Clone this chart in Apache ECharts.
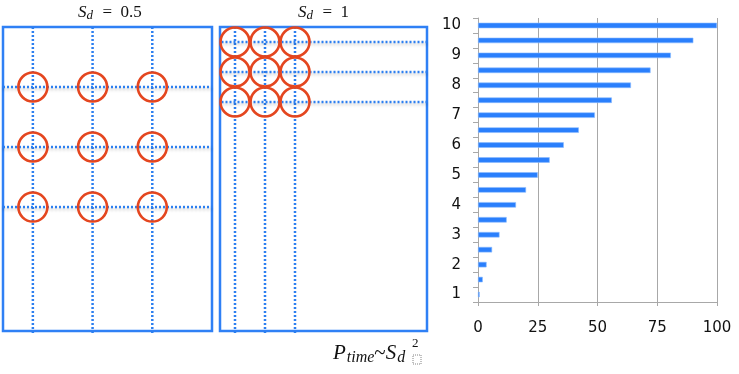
<!DOCTYPE html>
<html>
<head>
<meta charset="utf-8">
<script src="https://cdn.jsdelivr.net/npm/echarts@6/dist/echarts.min.js"></script>
<style>html,body{margin:0;padding:0;background:#fff;}#c{width:739px;height:374px;}</style>
</head>
<body>
<div id="c"></div>
<script>
// ---- Data ----
const categories = ['1','1.5','2','2.5','3','3.5','4','4.5','5','5.5','6','6.5','7','7.5','8','8.5','9','9.5','10'];
const barValues = [0.7, 2, 3.6, 5.9, 9, 12, 15.9, 20.1, 25, 30, 35.9, 42.2, 48.9, 56, 64, 72.2, 80.7, 90.1, 100];
const xTicks = [0, 25, 50, 75, 100];
// panel diagrams (units: circle diameter = 1)
const panel1Lines = [1, 3, 5];          // S_d = 0.5 grid positions (x)
const panel1RowLines = [2, 4, 6];       // y positions from top
const panel2Lines = [0.5, 1.5, 2.5];    // S_d = 1
const panel2RowLines = [0.5, 1.5, 2.5];
const panelTitles = ['0.5', '1'];

const BLUE = '#2f80f5';
const DOT = '#2c7ff0';
const RED = '#e4461f';

function vLines(xs, yMax, gi) {
  return xs.map(x => ({
    type: 'line', xAxisIndex: gi, yAxisIndex: gi, clip: false, silent: true,
    symbol: 'none', data: [[x, 0], [x, yMax]],
    lineStyle: { color: DOT, width: 2.5, type: [2, 2] }
  }));
}
function hLines(ys, xMin, xMax, gi) {
  return ys.map(y => ({
    type: 'line', xAxisIndex: gi, yAxisIndex: gi, clip: false, silent: true,
    symbol: 'none', data: [[xMin, y], [xMax, y]],
    lineStyle: { color: DOT, width: 2.5, type: [2, 2], shadowColor: 'rgba(0,0,0,0.25)', shadowBlur: 3, shadowOffsetY: 2 }
  }));
}
function circles(xs, ys, gi) {
  const d = [];
  ys.forEach(y => xs.forEach(x => d.push([x, y])));
  return {
    type: 'scatter', xAxisIndex: gi, yAxisIndex: gi, clip: false, silent: true,
    symbol: 'circle', symbolSize: 29, data: d,
    itemStyle: { color: 'rgba(0,0,0,0)', borderColor: RED, borderWidth: 2.6, opacity: 1 },
    z: 5
  };
}
const chart = echarts.init(document.getElementById('c'), null, { renderer: 'canvas' });
const numFont = { fontFamily: 'DejaVu Sans', fontSize: 15, color: '#111' };
const titleRich = {
  s: { fontFamily: 'Liberation Serif', fontStyle: 'italic', fontSize: 17, fill: '#111' },
  sub: { fontFamily: 'Liberation Serif', fontStyle: 'italic', fontSize: 13, fill: '#111', padding: [7, 1, 0, 0] },
  n: { fontFamily: 'Liberation Serif', fontSize: 17, fill: '#111' }
};

chart.setOption({
  animation: false,
  grid: [
    { left: 478, right: 22, top: 18, bottom: 72, containLabel: false },
    { left: 3, top: 27, width: 209, height: 304, show: true, borderColor: BLUE, borderWidth: 2.5, backgroundColor: 'transparent' },
    { left: 220, top: 27, width: 207, height: 304, show: true, borderColor: BLUE, borderWidth: 2.5, backgroundColor: 'transparent' }
  ],
  xAxis: [
    { gridIndex: 0, type: 'value', min: 0, max: 100, interval: 25,
      axisLine: { show: true, lineStyle: { color: '#a8a8a8', width: 1 } },
      axisTick: { show: true, length: 4, lineStyle: { color: '#a8a8a8' } },
      splitLine: { show: true, lineStyle: { color: '#a8a8a8', width: 1 } },
      axisLabel: Object.assign({ margin: 19, formatter: v => xTicks.indexOf(v) >= 0 ? String(v) : '' }, numFont) },
    { gridIndex: 1, type: 'value', min: 0, max: 7, show: false },
    { gridIndex: 2, type: 'value', min: 0, max: 6.9, show: false }
  ],
  yAxis: [
    { gridIndex: 0, type: 'category', data: categories, boundaryGap: true,
      axisLine: { show: true, lineStyle: { color: '#a8a8a8', width: 1 } },
      axisTick: { show: true, length: 5, interval: 0, lineStyle: { color: '#a8a8a8' } },
      splitLine: { show: false },
      axisLabel: Object.assign({ interval: 1, margin: 17 }, numFont) },
    { gridIndex: 1, type: 'value', min: 0, max: 10.13, inverse: true, show: false },
    { gridIndex: 2, type: 'value', min: 0, max: 10.13, inverse: true, show: false }
  ],
  series: [
    { type: 'bar', xAxisIndex: 0, yAxisIndex: 0, data: barValues, barWidth: 5.5,
      itemStyle: { color: '#2a7ffc', borderColor: '#8cbcff', borderWidth: 0.6 } },
    ...vLines(panel1Lines, 10.2, 1),
    ...hLines(panel1RowLines, 0, 7, 1),
    circles(panel1Lines, panel1RowLines, 1),
    ...vLines(panel2Lines, 10.2, 2),
    ...hLines(panel2RowLines, 0.05, 6.9, 2),
    circles(panel2Lines, panel2RowLines, 2)
  ],
  graphic: [
    { type: 'text', left: 78, top: 4, style: {
      text: '{s|S}{sub|d}{n|  =  ' + panelTitles[0] + '}', rich: titleRich } },
    { type: 'text', left: 298, top: 4, style: {
      text: '{s|S}{sub|d}{n|  =  ' + panelTitles[1] + '}', rich: titleRich } },
    { type: 'text', left: 333, top: 343, style: {
      text: '{p|P}{sub|time}{n|~}{p|S}{sub|d}',
      rich: {
        p: { fontFamily: 'Liberation Serif', fontStyle: 'italic', fontSize: 21, fill: '#111' },
        sub: { fontFamily: 'Liberation Serif', fontStyle: 'italic', fontSize: 16, fill: '#111', padding: [8, 0, 0, 1] },
        n: { fontFamily: 'Liberation Serif', fontSize: 21, fill: '#111' }
      } } },
    { type: 'text', left: 412, top: 337, style: { text: '2', fontFamily: 'Liberation Serif', fontSize: 13, fill: '#111' } },
    { type: 'rect', shape: { x: 413, y: 355, width: 8, height: 9 },
      style: { fill: 'none', stroke: '#666', lineWidth: 0.8, lineDash: [1, 1] } }
  ]
});
</script>
</body>
</html>
